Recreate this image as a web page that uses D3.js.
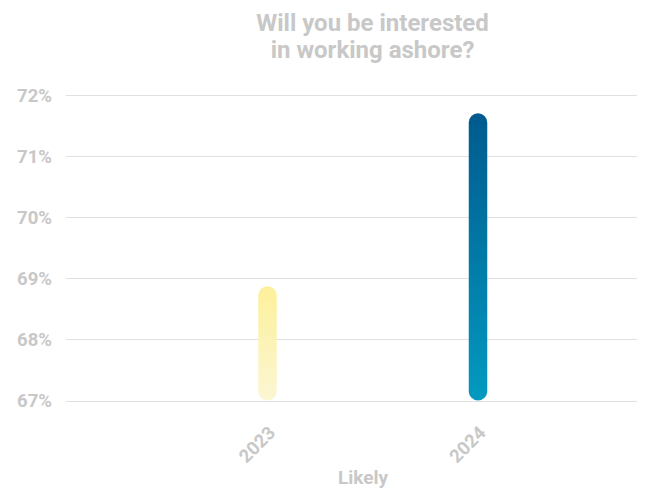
<!DOCTYPE html>
<html><head><meta charset="utf-8">
<script src="https://cdn.jsdelivr.net/npm/d3@7"></script>
<style>
html,body{margin:0;padding:0;background:#fff;}
text{font-family:Roboto,"Noto Sans",sans-serif;font-weight:bold;fill:#c8c8c8;}
</style></head><body>
<svg id="chart" width="645" height="488"></svg>
<script>
const categories = ["2023", "2024"];
const values = [68.87, 71.7];
const yTicks = [67, 68, 69, 70, 71, 72];
const titleLines = ["Will you be interested", "in working ashore?"];
const xAxisTitle = "Likely";
const gradients = [["#fdf09a", "#fbf6d3"], ["#005a8e", "#039ac0"]];

const svg = d3.select("#chart");
const plot = {left: 66, right: 637, top: 95, bottom: 400.5};

const y = d3.scaleLinear().domain([67, 72]).range([plot.bottom, plot.top]);
const x = d3.scalePoint().domain(categories).range([267.5, 478]);

// title
const t = svg.append("text").attr("text-anchor", "middle").attr("font-size", 24);
titleLines.forEach((l, i) => t.append("tspan").attr("x", 372.5).attr("y", 31 + i * 27).text(l));

// grid
svg.append("g").selectAll("line").data(yTicks).join("line")
  .attr("x1", plot.left).attr("x2", plot.right)
  .attr("y1", d => Math.round(y(d)) + 0.5).attr("y2", d => Math.round(y(d)) + 0.5)
  .attr("stroke", "#e0e0e0").attr("stroke-width", 1);

// y labels
svg.append("g").selectAll("text").data(yTicks).join("text")
  .attr("x", 52).attr("y", d => y(d) + 6.5)
  .attr("text-anchor", "end").attr("font-size", 18.5)
  .text(d => d + "%");

// gradients
const defs = svg.append("defs");
gradients.forEach((g, i) => {
  const lg = defs.append("linearGradient").attr("id", "grad" + i)
    .attr("x1", 0).attr("y1", 0).attr("x2", 0).attr("y2", 1);
  lg.append("stop").attr("offset", "0%").attr("stop-color", g[0]);
  lg.append("stop").attr("offset", "100%").attr("stop-color", g[1]);
});

// bars
const bw = 18.5;
svg.append("g").selectAll("rect").data(categories).join("rect")
  .attr("x", d => x(d) - bw / 2)
  .attr("y", (d, i) => y(values[i]))
  .attr("width", bw)
  .attr("height", (d, i) => y(67) - y(values[i]))
  .attr("rx", bw / 2).attr("ry", bw / 2)
  .attr("fill", (d, i) => `url(#grad${i})`);

// x labels
svg.append("g").selectAll("text").data(categories).join("text")
  .attr("transform", d => `translate(${x(d) + 9},${434}) rotate(-45)`)
  .attr("text-anchor", "end").attr("font-size", 18.5)
  .text(d => d);

svg.append("text").attr("x", 363).attr("y", 484).attr("text-anchor", "middle")
  .attr("font-size", 19).text(xAxisTitle);
</script>
</body></html>
